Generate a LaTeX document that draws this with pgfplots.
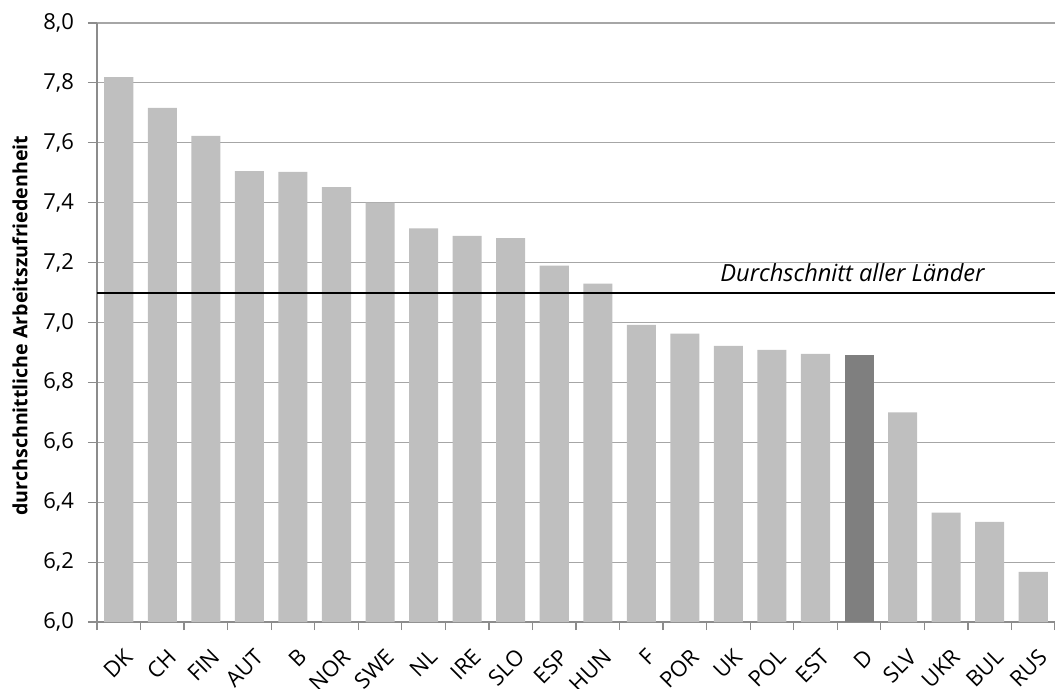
\documentclass[border=0pt]{standalone}
\usepackage{pgfplots}
\pgfplotsset{compat=1.18}
\usepackage{fontspec}
\setmainfont{Open Sans}
\definecolor{barg}{HTML}{BFBFBF}
\definecolor{bard}{HTML}{7F7F7F}
\definecolor{gridg}{HTML}{A6A6A6}
\definecolor{axisg}{HTML}{8C8C8C}
\begin{document}
\begin{tikzpicture}
\useasboundingbox (-48.5bp,-33.5bp) rectangle (479bp,311bp);
\begin{axis}[
  at={(0,0)}, anchor=south west,
  scale only axis, width=479bp, height=299.5bp,
  xmin=-0.5, xmax=21.5, ymin=6, ymax=8,
  axis x line*=bottom, axis y line*=left,
  axis line style={axisg, line width=0.6bp},
  ytick={6,6.2,6.4,6.6,6.8,7,7.2,7.4,7.6,7.8,8},
  ymajorgrids, grid style={gridg, line width=0.6bp},
  tick align=outside, major tick length=4.5bp, minor tick length=4bp,
  tick style={axisg, line width=0.6bp},
  xtick={0,...,21},
  major x tick style={draw=none},
  minor xtick={-0.5,0.5,...,21.5},
  xticklabels={DK,CH,FIN,AUT,B,NOR,SWE,NL,IRE,SLO,ESP,HUN,F,POR,UK,POL,EST,D,SLV,UKR,BUL,RUS},
  xticklabel style={font=\fontsize{11bp}{13bp}\selectfont, inner sep=0pt, anchor=north east, xshift=2bp, yshift=-8bp, rotate=45},
  yticklabel style={font=\fontsize{11bp}{13bp}\selectfont, xshift=-3.5bp, /pgf/number format/.cd, use comma, fixed, fixed zerofill, precision=1, assume math mode=true},
  ylabel={\bfseries durchschnittliche Arbeitszufriedenheit},
  ylabel style={font=\fontsize{9.8bp}{11bp}\selectfont, at={(axis description cs:-0.0804,0.495)}, anchor=center},
  ybar, bar width=0.667, bar shift=0,
]
\addplot[fill=barg, draw=none] coordinates {
 (0,7.819) (1,7.717) (2,7.623) (3,7.505) (4,7.503) (5,7.452) (6,7.400)
 (7,7.314) (8,7.289) (9,7.282) (10,7.190) (11,7.130) (12,6.992) (13,6.963)
 (14,6.922) (15,6.909) (16,6.895) (18,6.700) (19,6.365) (20,6.334) (21,6.167)};
\addplot[fill=bard, draw=none] coordinates {(17,6.891)};
\addplot[sharp plot, black, line width=1bp] coordinates {(-0.5,7.1) (21.5,7.1)};
\node[font=\fontsize{11.8bp}{14bp}\selectfont\itshape, anchor=base] at (axis cs:16.85,7.138) {Durchschnitt aller Länder};
\end{axis}
\end{tikzpicture}
\end{document}
